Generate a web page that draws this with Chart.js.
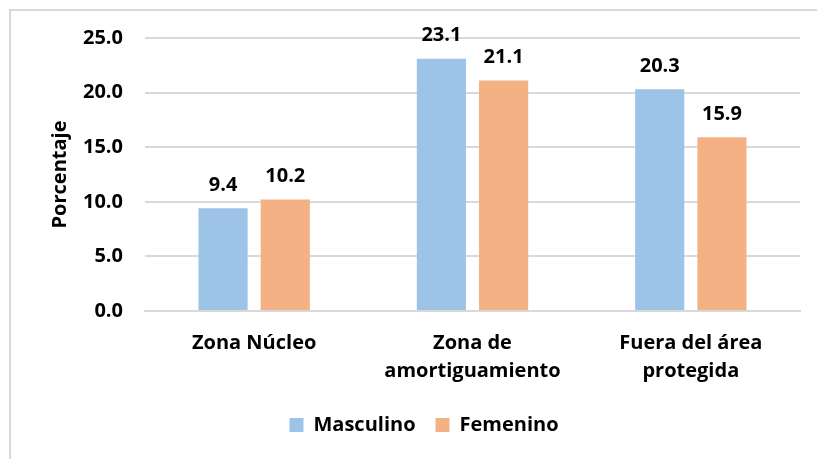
<!DOCTYPE html>
<html>
<head>
<meta charset="utf-8">
<script src="https://cdn.jsdelivr.net/npm/chart.js@4"></script>
<style>
  html, body { margin: 0; padding: 0; background: #fff; }
  #wrap { position: relative; width: 817px; height: 459px; }
</style>
</head>
<body>
<div id="wrap"><canvas id="chart"></canvas></div>
<script>
// data
const categories = [['Zona Núcleo'], ['Zona de', 'amortiguamiento'], ['Fuera del área', 'protegida']];
const masculino = [9.4, 23.1, 20.3];
const femenino = [10.2, 21.1, 15.9];
const yTicks = [0, 5, 10, 15, 20, 25];

const FONT = '"Open Sans", Lato, sans-serif';

// light frame around the chart (left and top only, like the crop)
const framePlugin = {
    id: 'frame',
    beforeDraw(chart) {
        const ctx = chart.ctx;
        ctx.save();
        ctx.strokeStyle = '#d9d9d9';
        ctx.lineWidth = 2;
        ctx.beginPath();
        ctx.moveTo(10, 459);
        ctx.lineTo(10, 10);
        ctx.lineTo(817, 10);
        ctx.stroke();
        ctx.restore();
    }
};

// value labels above each bar
const valueLabels = {
    id: 'valueLabels',
    afterDatasetsDraw(chart) {
        const ctx = chart.ctx;
        ctx.save();
        ctx.font = 'bold 20px ' + FONT;
        ctx.fillStyle = '#000';
        ctx.textAlign = 'center';
        ctx.textBaseline = 'middle';
        chart.data.datasets.forEach((ds, i) => {
            chart.getDatasetMeta(i).data.forEach((bar, j) => {
                ctx.fillText(ds.data[j].toFixed(1), bar.x, bar.y - 23);
            });
        });
        ctx.restore();
    }
};

new Chart(document.getElementById('chart'), {
    type: 'bar',
    data: {
        labels: categories,
        datasets: [{
            label: 'Masculino',
            data: masculino,
            backgroundColor: '#9dc3e6',
            categoryPercentage: 0.57,
            barPercentage: 0.79
        }, {
            label: 'Femenino',
            data: femenino,
            backgroundColor: '#f4b183',
            categoryPercentage: 0.57,
            barPercentage: 0.79
        }]
    },
    plugins: [framePlugin, valueLabels],
    options: {
        responsive: true,
        maintainAspectRatio: false,
        animation: false,
        layout: {
            padding: { left: 48, right: 17, top: 38, bottom: 14 }
        },
        plugins: {
            legend: {
                position: 'bottom',
                labels: {
                    boxWidth: 14,
                    boxHeight: 14,
                    padding: 20,
                    color: '#000',
                    font: { family: FONT, size: 20, weight: 'bold' }
                }
            },
            tooltip: { enabled: false }
        },
        scales: {
            x: {
                grid: { display: false },
                border: { color: '#d9d9d9', width: 2 },
                afterFit(axis) {
                    axis.height = 84;
                },
                ticks: {
                    color: '#000',
                    padding: 10,
                    maxRotation: 0,
                    font: { family: FONT, size: 20, weight: 'bold', lineHeight: 1.4 }
                }
            },
            y: {
                min: 0,
                max: 25,
                afterBuildTicks(axis) {
                    axis.ticks = yTicks.map(v => ({ value: v }));
                },
                afterFit(axis) {
                    axis.width = 97;
                },
                grid: { color: '#d9d9d9', lineWidth: 2, drawTicks: false },
                border: { display: false },
                ticks: {
                    color: '#000',
                    padding: 22,
                    font: { family: FONT, size: 20, weight: 'bold' },
                    callback: v => v.toFixed(1)
                },
                title: {
                    display: true,
                    text: 'Porcentaje',
                    color: '#000',
                    padding: 0,
                    font: { family: FONT, size: 20, weight: 'bold' }
                }
            }
        }
    }
});
</script>
</body>
</html>
